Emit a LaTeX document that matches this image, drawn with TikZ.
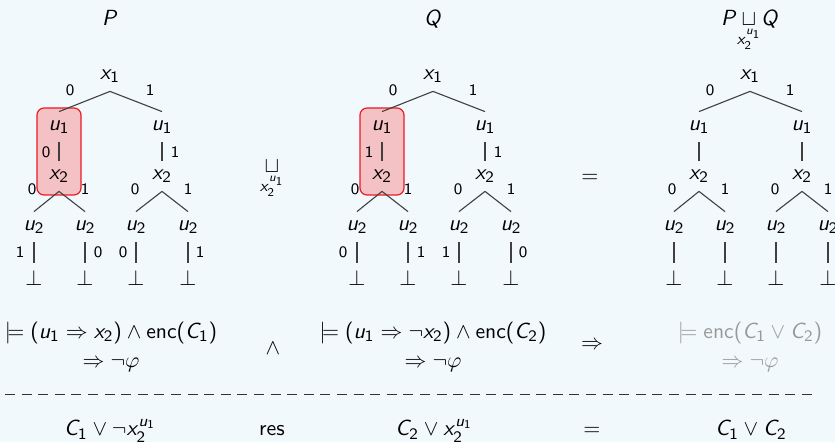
\documentclass[tikz,border=0pt,11pt]{standalone}
\usepackage{amsmath,amssymb}
\usetikzlibrary{positioning}

% sans serif math, as on the slides
\DeclareSymbolFont{operators}{OT1}{cmss}{m}{n}
\DeclareSymbolFont{sfletters}{OT1}{cmss}{m}{sl}
\makeatletter
\@tfor\next:=abcdefghijklmnopqrstuvwxyzABCDEFGHIJKLMNOPQRSTUVWXYZ\do{%
  \edef\x{\noexpand\DeclareMathSymbol{\next}{\noexpand\mathalpha}{sfletters}{`\next}}\x}
\makeatother

\definecolor{slidebg}{RGB}{242,249,252}
\definecolor{hlred}{RGB}{236,28,36}

\tikzset{
  lit/.style={inner sep=0pt, minimum height=15pt},
  lbl/.style={inner sep=0pt, font=\scriptsize},
  bddline/.style={black!75, line width=0.55pt},
  hl/.style={draw=hlred, line width=0.6pt, fill=red, fill opacity=0.22,
    draw opacity=1, rounded corners=3.5pt},
  fml/.style={align=center, font=\fontsize{10.8}{14.5}\selectfont},
}

% join operator with its pivot written below
\newcommand{\joinop}{\mathop{\sqcup}\limits_{\makebox[0pt]{$\scriptstyle x_2^{u_1}$}}}

% one decision tree over x1,u1,x2,u2: #1 prefix, #2 x position,
% #3,#4 labels under u1, #5..#8 labels under u2
\newcommand{\bddtree}[8]{%
\begin{scope}[shift={(#2,0)}]
  \node[lit] (#1x1) at (0,76) {$x_1$};
  \node[lit] (#1u1l) at (-51,127) {$u_1$};
  \node[lit] (#1u1r) at (52,127) {$u_1$};
  \node[lit] (#1x2l) at (-51,176) {$x_2$};
  \node[lit] (#1x2r) at (52,176) {$x_2$};
  \foreach \n/\px in {1/-76,2/-25,3/26,4/78} {
    \node[lit] (#1u2\n) at (\px,227) {$u_2$};
    \node[lit] (#1f\n) at (\px,278) {$\bot$};
    \draw[bddline] (#1u2\n.south) -- (#1f\n.north);
  }
  \draw[bddline] (#1x1.south) -- (#1u1l.north);
  \draw[bddline] (#1x1.south) -- (#1u1r.north);
  \draw[bddline] (#1u1l.south) -- (#1x2l.north);
  \draw[bddline] (#1u1r.south) -- (#1x2r.north);
  \draw[bddline] (#1x2l.south) -- (#1u21.north);
  \draw[bddline] (#1x2l.south) -- (#1u22.north);
  \draw[bddline] (#1x2r.south) -- (#1u23.north);
  \draw[bddline] (#1x2r.south) -- (#1u24.north);
  % edge labels
  \node[lbl] (#1a0) at (-40,90) {0};
  \node[lbl] (#1a1) at (40,90) {1};
  \node[lbl] (#1b0) at (-64,152) {#3};
  \node[lbl] (#1b1) at (65,152) {#4};
  \node[lbl] (#1c0) at (-78,189) {0};
  \node[lbl] (#1c1) at (-25,189) {1};
  \node[lbl] (#1c2) at (25,189) {0};
  \node[lbl] (#1c3) at (78,189) {1};
  \node[lbl] (#1d1) at (-90,252) {#5};
  \node[lbl] (#1d2) at (-12,252) {#6};
  \node[lbl] (#1d3) at (13,252) {#7};
  \node[lbl] (#1d4) at (90,252) {#8};
\end{scope}}

\begin{document}
\sffamily
\begin{tikzpicture}[x=0.5pt, y=-0.5pt]
\fill[slidebg] (0,0) rectangle (835,442);
\useasboundingbox (0,0) rectangle (835,442);
% highlighted u1--x2 steps
\foreach \c in {110,433}
  \draw[hl] (\c-73,108) rectangle (\c-29,195);
% the three trees
\bddtree{p}{110}{0}{1}{1}{0}{0}{1}
\bddtree{q}{433}{1}{1}{0}{1}{1}{0}
\bddtree{r}{750}{}{}{}{}{}{}
% titles
\node[anchor=base] (tp) at (110,26) {$P$};
\node[anchor=base] (tq) at (433,26) {$Q$};
\node[anchor=base] (tr) at (750,26) {$P \mathbin{\joinop} Q$};
\node[anchor=base] (join) at (272,173) {$\joinop$};
\node (eq) at (590,178) {$=$};
% entailments
\node[fml] (f1) at (111,347) {$\models (u_1 \Rightarrow x_2) \wedge \text{enc}(C_1)$\\ $\Rightarrow \neg\varphi$};
\node (and) at (273,348) {$\wedge$};
\node[fml] (f2) at (433,347) {$\models (u_1 \Rightarrow \neg x_2) \wedge \text{enc}(C_2)$\\ $\Rightarrow \neg\varphi$};
\node (imp) at (592,345) {$\Rightarrow$};
\node[fml, text=black!40] (f3) at (750,347) {$\models \text{enc}(C_1 \vee C_2)$\\ $\Rightarrow \neg\varphi$};
% separator
\coordinate (dl) at (5,395);
\coordinate (dr) at (815,395);
\draw[black!80, line width=0.5pt, dash pattern=on 5pt off 3.3pt] (dl) -- (dr);
% resolution
\node[anchor=base] (c1) at (110,436) {$C_1 \vee \neg x_2^{u_1}$};
\node[anchor=base] (res) at (272,436) {res};
\node[anchor=base] (c2) at (434,436) {$C_2 \vee x_2^{u_1}$};
\node[anchor=base] (eq2) at (592,436) {$=$};
\node[anchor=base] (c12) at (751,436) {$C_1 \vee C_2$};
\end{tikzpicture}
\end{document}
